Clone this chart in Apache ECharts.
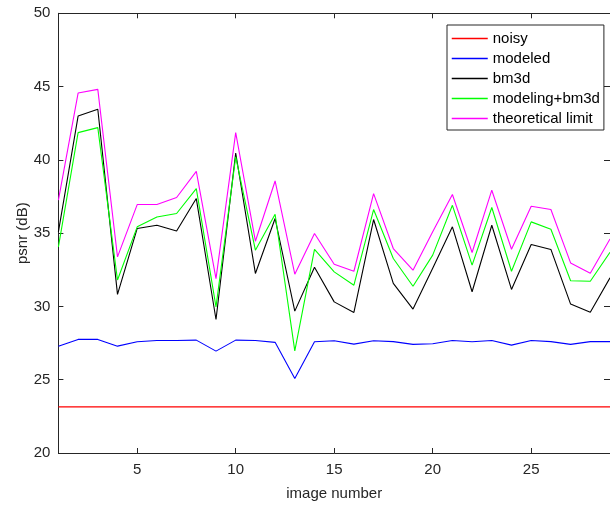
<!DOCTYPE html>
<html>
<head>
<meta charset="utf-8">
<script src="https://cdn.jsdelivr.net/npm/echarts@6/dist/echarts.min.js"></script>
<style>html,body{margin:0;padding:0;background:#fff;}#c{width:610px;height:508px;}</style>
</head>
<body>
<div id="c"></div>
<script>
const imageNumbers = [1,2,3,4,5,6,7,8,9,10,11,12,13,14,15,16,17,18,19,20,21,22,23,24,25,26,27,28,29];
const noisy = [23.15,23.15,23.15,23.15,23.15,23.15,23.15,23.15,23.15,23.15,23.15,23.15,23.15,23.15,23.15,23.15,23.15,23.15,23.15,23.15,23.15,23.15,23.15,23.15,23.15,23.15,23.15,23.15,23.15];
const modeled = [27.29,27.75,27.75,27.29,27.59,27.68,27.68,27.70,26.95,27.70,27.68,27.55,25.09,27.59,27.66,27.43,27.66,27.60,27.41,27.45,27.68,27.59,27.68,27.36,27.68,27.60,27.41,27.60,27.60];
const bm3d = [35.09,42.99,43.45,30.82,35.32,35.54,35.15,37.36,29.11,40.47,32.25,36.00,29.68,32.68,30.31,29.59,35.93,31.57,29.82,32.60,35.43,31.00,35.54,31.16,34.23,33.89,30.16,29.61,31.95];
const modelingBm3d = [34.06,41.86,42.20,31.80,35.43,36.10,36.34,38.04,29.97,40.20,33.84,36.29,26.97,33.90,32.36,31.45,36.61,33.27,31.38,33.50,36.90,32.82,36.75,32.40,35.77,35.27,31.75,31.72,33.70];
const theoreticalLimit = [37.25,44.56,44.81,33.38,36.95,36.95,37.43,39.22,31.90,41.86,34.45,38.56,32.20,34.98,32.88,32.40,37.70,33.95,32.47,35.10,37.64,33.68,37.93,33.90,36.84,36.61,32.97,32.27,34.60];
const xTicks = [5,10,15,20,25];
const seriesNames = ['noisy','modeled','bm3d','modeling+bm3d','theoretical limit'];
const seriesColors = ['#ff0000','#0000ff','#000000','#00ff00','#ff00ff'];
const xLabel = 'image number';
const yLabel = 'psnr (dB)';

const seriesData = [noisy, modeled, bm3d, modelingBm3d, theoreticalLimit];
const FONT = 'Liberation Sans, Arial, Helvetica, sans-serif';
const AX = '#262626';

const chart = echarts.init(document.getElementById('c'), null, {renderer: 'canvas'});
chart.setOption({
  animation: false,
  backgroundColor: '#fff',
  grid: {left: 58.4, right: -5.6, top: 13.3, bottom: 55, containLabel: false},
  legend: {
    orient: 'vertical',
    left: 447, top: 25,
    padding: [6, 4, 4, 4],
    itemWidth: 36, itemHeight: 14, itemGap: 5,
    borderColor: AX, borderWidth: 1, backgroundColor: '#fff',
    itemStyle: {opacity: 0},
    lineStyle: {width: 1.5},
    textStyle: {fontFamily: FONT, fontSize: 15, color: '#000'},
    data: seriesNames
  },
  xAxis: [{
    type: 'value', min: 1, max: 29,
    name: xLabel, nameLocation: 'middle', nameGap: 33, nameMoveOverlap: false,
    nameTextStyle: {fontFamily: FONT, fontSize: 15, color: AX},
    axisLine: {show: true, onZero: false, lineStyle: {color: AX, width: 1}},
    axisTick: {show: true, inside: true, length: 5, customValues: xTicks, lineStyle: {color: AX}},
    axisLabel: {show: true, customValues: xTicks, margin: 9, fontFamily: FONT, fontSize: 15, color: AX},
    splitLine: {show: false}
  }, {
    type: 'value', min: 1, max: 29, position: 'top',
    axisLine: {show: true, onZero: false, lineStyle: {color: AX, width: 1}},
    axisTick: {show: true, inside: true, length: 5, customValues: xTicks, lineStyle: {color: AX}},
    axisLabel: {show: false},
    splitLine: {show: false}
  }],
  yAxis: [{
    type: 'value', min: 20, max: 50, interval: 5,
    name: yLabel, nameLocation: 'middle', nameGap: 28, nameMoveOverlap: false,
    nameTextStyle: {fontFamily: FONT, fontSize: 15, color: AX},
    axisLine: {show: true, onZero: false, lineStyle: {color: AX, width: 1}},
    axisTick: {show: true, inside: true, length: 5, lineStyle: {color: AX}},
    axisLabel: {margin: 8, fontFamily: FONT, fontSize: 15, color: AX},
    splitLine: {show: false}
  }, {
    type: 'value', min: 20, max: 50, interval: 5, position: 'right',
    axisLine: {show: true, onZero: false, lineStyle: {color: AX, width: 1}},
    axisTick: {show: true, inside: true, length: 6, lineStyle: {color: AX}},
    axisLabel: {show: false},
    splitLine: {show: false}
  }],
  series: seriesNames.map((n, i) => ({
    name: n, type: 'line', xAxisIndex: 0, yAxisIndex: 0,
    symbol: 'none', showSymbol: false,
    lineStyle: {color: seriesColors[i], width: 1.1},
    itemStyle: {color: seriesColors[i]},
    data: imageNumbers.map((x, j) => [x, seriesData[i][j]])
  }))
});
</script>
</body>
</html>
